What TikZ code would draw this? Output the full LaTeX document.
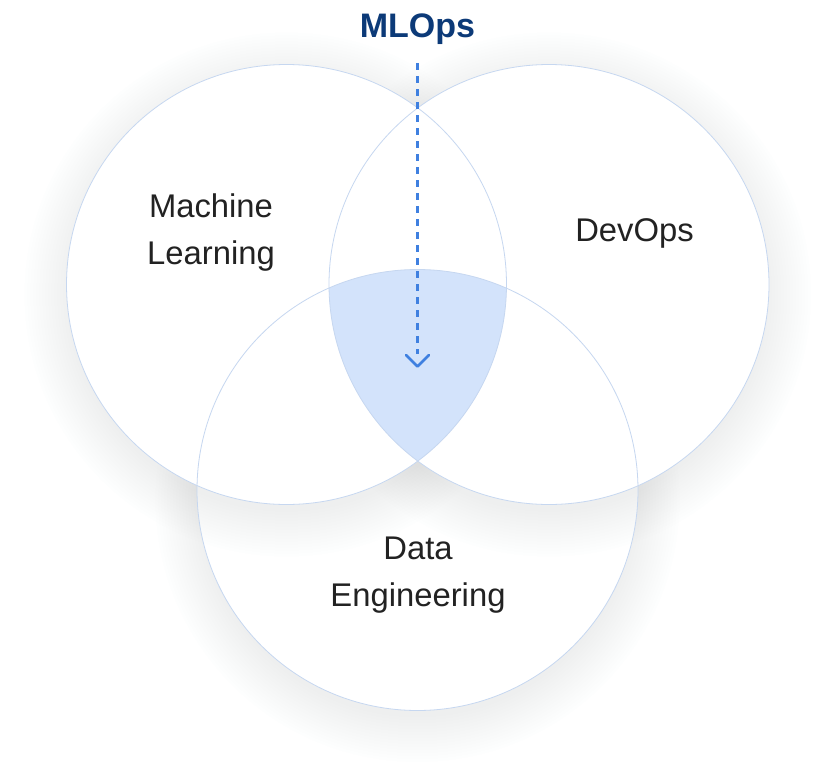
\documentclass[tikz,border=0pt]{standalone}
\usepackage{fontspec}
\setmainfont{Liberation Sans}
\definecolor{ringline}{HTML}{C6D7F0}
\definecolor{hlfill}{HTML}{D3E3FB}
\definecolor{arrowblue}{HTML}{3F80E0}
\definecolor{titleblue}{HTML}{0C3A78}
\definecolor{labelgray}{HTML}{222222}
\definecolor{shadowgray}{HTML}{A8ABB0}
\tikzset{
  ringstroke/.style={draw=ringline, line width=0.8pt},
  ringfill/.style={fill=white},
  shadowstep/.style={fill=shadowgray, opacity=0.011},
  arrowline/.style={draw=arrowblue, line width=2.8pt, dash pattern=on 7pt off 6pt},
  chevron/.style={draw=arrowblue, line width=2.8pt, line cap=round, line join=round},
  setlabel/.style={anchor=base, inner sep=0pt, text=labelgray, font=\fontsize{32.8}{47.5}\selectfont},
  titlelabel/.style={anchor=base, inner sep=0pt, text=titleblue, font=\fontsize{34}{40}\selectfont\bfseries}
}
\newcommand\ringshadow[1]{%
  \foreach \k in {1,...,16}{\fill[shadowstep] ([yshift=-10pt]#1) circle[radius={(214+3*\k)*1pt}];}}
\begin{document}
\begin{tikzpicture}[x=1pt,y=-1pt]
\useasboundingbox (0,0) rectangle (828,780);
\fill[white] (0,0) rectangle (828,780);
\coordinate (cL) at (286.5,284.5);
\coordinate (cR) at (549,284.5);
\coordinate (cB) at (417.5,490);
% bottom circle with shadow
\ringshadow{cB}
\fill[ringfill] (cB) circle[radius=220.5pt];
% left and right shadows
\ringshadow{cL}
\ringshadow{cR}
\fill[ringfill] (cL) circle[radius=220pt];
\fill[ringfill] (cR) circle[radius=220pt];
% highlighted triple intersection
\begin{scope}
  \clip (cL) circle[radius=220pt];
  \clip (cR) circle[radius=220pt];
  \fill[hlfill] (cB) circle[radius=220.5pt];
\end{scope}
% outlines
\draw[ringstroke] (cB) circle[radius=220.5pt];
\draw[ringstroke] (cL) circle[radius=220pt];
\draw[ringstroke] (cR) circle[radius=220pt];
% labels
\node[titlelabel] (mlops) at (417.5,37) {MLOps};
\node[setlabel] (ml) at (211,217) {\begin{tabular}[t]{@{}c@{}}Machine\\Learning\end{tabular}};
\node[setlabel] (devops) at (634.5,241) {DevOps};
\node[setlabel] (de) at (418,559) {\begin{tabular}[t]{@{}c@{}}Data\\Engineering\end{tabular}};
% arrow
\coordinate (astart) at (417.5,63);
\coordinate (aend) at (417.5,354);
\coordinate (tipL) at (406,355);
\coordinate (tip) at (417.5,366.5);
\coordinate (tipR) at (429,355);
\draw[arrowline] (astart) -- (aend);
\draw[chevron] (tipL) -- (tip) -- (tipR);
\end{tikzpicture}
\end{document}
